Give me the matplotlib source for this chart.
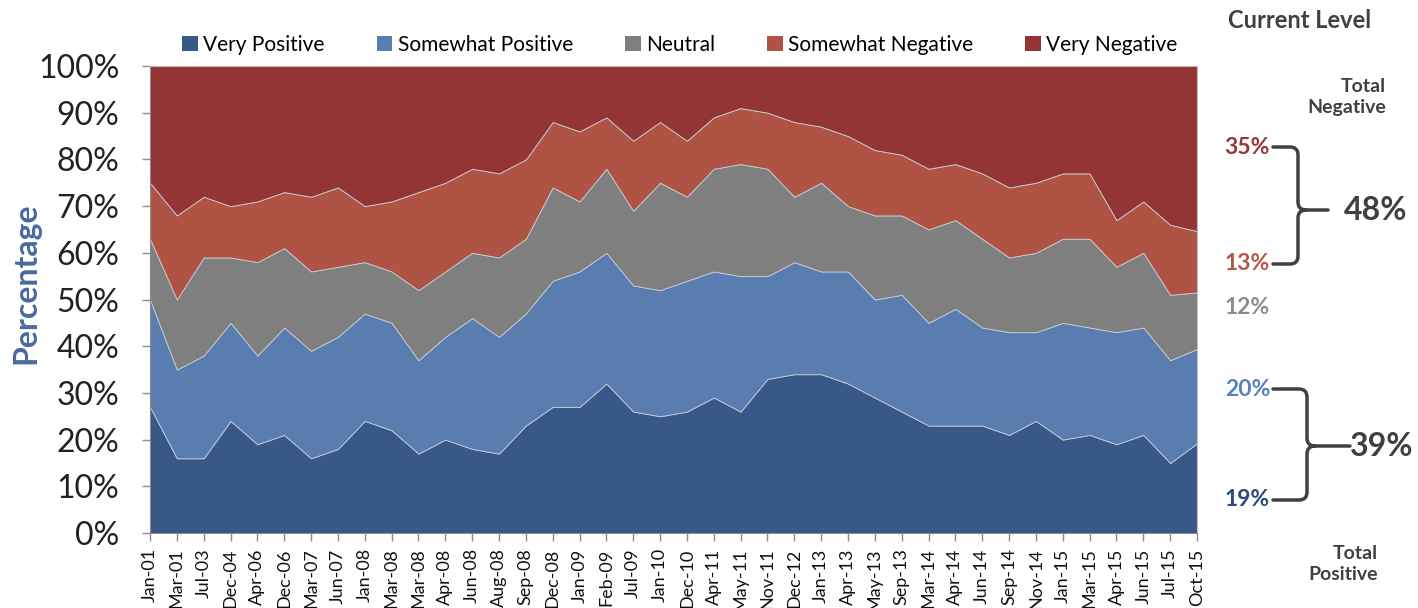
import matplotlib
matplotlib.use('Agg')
import matplotlib.pyplot as plt
from matplotlib.path import Path
from matplotlib.patches import PathPatch, Patch
import numpy as np

plt.rcParams['font.family'] = ['Lato', 'DejaVu Sans']

dates = ['Jan-01', 'Mar-01', 'Jul-03', 'Dec-04', 'Apr-06', 'Dec-06', 'Mar-07', 'Jun-07',
         'Jan-08', 'Mar-08', 'Mar-08', 'Apr-08', 'Jun-08', 'Aug-08', 'Sep-08', 'Dec-08',
         'Jan-09', 'Feb-09', 'Jul-09', 'Jan-10', 'Dec-10', 'Apr-11', 'May-11', 'Nov-11',
         'Dec-12', 'Jan-13', 'Apr-13', 'May-13', 'Sep-13', 'Mar-14', 'Apr-14', 'Jun-14',
         'Sep-14', 'Nov-14', 'Jan-15', 'Mar-15', 'Apr-15', 'Jun-15', 'Jul-15', 'Oct-15']

very_pos = [27, 16, 16, 24, 19, 21, 16, 18, 24, 22, 17, 20, 18, 17, 23, 27, 27, 32, 26, 25,
            26, 29, 26, 33, 34, 34, 32, 29, 26, 23, 23, 23, 21, 24, 20, 21, 19, 21, 15, 19]
somewhat_pos = [23, 19, 22, 21, 19, 23, 23, 24, 23, 23, 20, 22, 28, 25, 24, 27, 29, 28, 27, 27,
                28, 27, 29, 22, 24, 22, 24, 21, 25, 22, 25, 21, 22, 19, 25, 23, 24, 23, 22, 20]
neutral = [13, 15, 21, 14, 20, 17, 17, 15, 11, 11, 15, 14, 14, 17, 16, 20, 15, 18, 16, 23,
           18, 22, 24, 23, 14, 19, 14, 18, 17, 20, 19, 19, 16, 17, 18, 19, 14, 16, 14, 12]
somewhat_neg = [12, 18, 13, 11, 13, 12, 16, 17, 12, 15, 21, 19, 18, 18, 17, 14, 15, 11, 15, 13,
                12, 11, 12, 12, 16, 12, 15, 14, 13, 13, 12, 14, 15, 15, 14, 14, 10, 11, 15, 13]
very_neg = [25, 32, 28, 30, 29, 27, 28, 26, 30, 29, 27, 25, 22, 23, 20, 12, 14, 11, 16, 12,
            16, 11, 9, 10, 12, 13, 15, 18, 19, 22, 21, 23, 26, 25, 23, 23, 33, 29, 34, 35]

series = ['Very Positive', 'Somewhat Positive', 'Neutral', 'Somewhat Negative', 'Very Negative']
colors = ['#385887', '#5A7DB0', '#7F7F7F', '#AF5445', '#943535']

data = np.array([very_pos, somewhat_pos, neutral, somewhat_neg, very_neg], dtype=float)
data = data / data.sum(axis=0) * 100
x = np.arange(len(dates))

fig = plt.figure(figsize=(14.18, 6.08), dpi=100)
ax = fig.add_axes([150 / 1418, 1 - 533 / 608, (1197 - 150) / 1418, (533 - 66) / 608])

ax.stackplot(x, data, colors=colors, labels=series, edgecolor='#C9CCD6', linewidth=0.6)
ax.set_xlim(0, len(dates) - 1)
ax.set_ylim(0, 100)
ax.set_yticks(range(0, 101, 10))
ax.set_yticklabels(['{}%'.format(v) for v in range(0, 101, 10)], fontsize=23, color='#222222')
ax.set_xticks(x)
ax.set_xticklabels(dates, rotation=90, fontsize=13, color='#111111')
ax.tick_params(axis='both', direction='out', length=6, color='#8C8C8C', width=1)
ax.tick_params(axis='y', pad=16)
ax.tick_params(axis='x', pad=5)
for s in ax.spines.values():
    s.set_color('#BFBFBF')
ax.spines['left'].set_color('#8C8C8C')
ax.spines['bottom'].set_color('#8C8C8C')

ax.set_ylabel('Percentage', fontsize=23, fontweight='bold', color='#4A6A9E')
ax.yaxis.set_label_coords(-0.105, 0.535)

ax.legend(handles=[Patch(facecolor=c, label=l) for c, l in zip(colors, series)],
          loc='center', bbox_to_anchor=(0.506, 1.045), ncol=5, frameon=False,
          fontsize=15, handlelength=0.75, handleheight=0.75, handletextpad=0.25,
          columnspacing=2.5, borderaxespad=0)

# annotation layer in pixel coordinates
ov = fig.add_axes([0, 0, 1, 1], facecolor='none')
ov.set_xlim(0, 1418)
ov.set_ylim(608, 0)
ov.axis('off')

dark = '#404040'
ov.text(1300, 20, 'Current Level', fontsize=17, fontweight='bold', color=dark, ha='center', va='center')
ov.text(1386, 97, 'Total\nNegative', fontsize=14, fontweight='bold', color=dark,
        ha='right', va='center', multialignment='right', linespacing=1.3)
ov.text(1378, 564, 'Total\nPositive', fontsize=14, fontweight='bold', color=dark,
        ha='right', va='center', multialignment='right', linespacing=1.3)

labels = [('35%', 147, '#953735'), ('13%', 264, '#B5584A'), ('12%', 308, '#8C8C8C'),
          ('20%', 389, '#5B7FB9'), ('19%', 500, '#2C4A7C')]
for txt, yy, c in labels:
    ov.text(1270, yy, txt, fontsize=16.5, fontweight='bold', color=c, ha='right', va='center')


def brace(x0, xv, xt, y_top, y_bot, y_mid, r=8):
    verts = [(x0, y_top), (xv - r, y_top), (xv, y_top), (xv, y_top + r),
             (xv, y_mid - r), (xv, y_mid), (xv + r, y_mid), (xt, y_mid),
             (xv + r, y_mid), (xv, y_mid), (xv, y_mid + r),
             (xv, y_bot - r), (xv, y_bot), (xv - r, y_bot), (x0, y_bot)]
    codes = [Path.MOVETO, Path.LINETO, Path.CURVE3, Path.CURVE3,
             Path.LINETO, Path.CURVE3, Path.CURVE3, Path.LINETO,
             Path.MOVETO, Path.CURVE3, Path.CURVE3,
             Path.LINETO, Path.CURVE3, Path.CURVE3, Path.LINETO]
    ov.add_patch(PathPatch(Path(verts, codes), facecolor='none', edgecolor=dark,
                           linewidth=2.5, capstyle='round'))


brace(1273, 1298, 1328, 147, 264, 210)
brace(1273, 1307, 1350, 389, 500, 446)
ov.text(1376, 210, '48%', fontsize=23, fontweight='bold', color=dark, ha='center', va='center')
ov.text(1382, 446, '39%', fontsize=23, fontweight='bold', color=dark, ha='center', va='center')

fig.savefig('out.png', dpi=100)
